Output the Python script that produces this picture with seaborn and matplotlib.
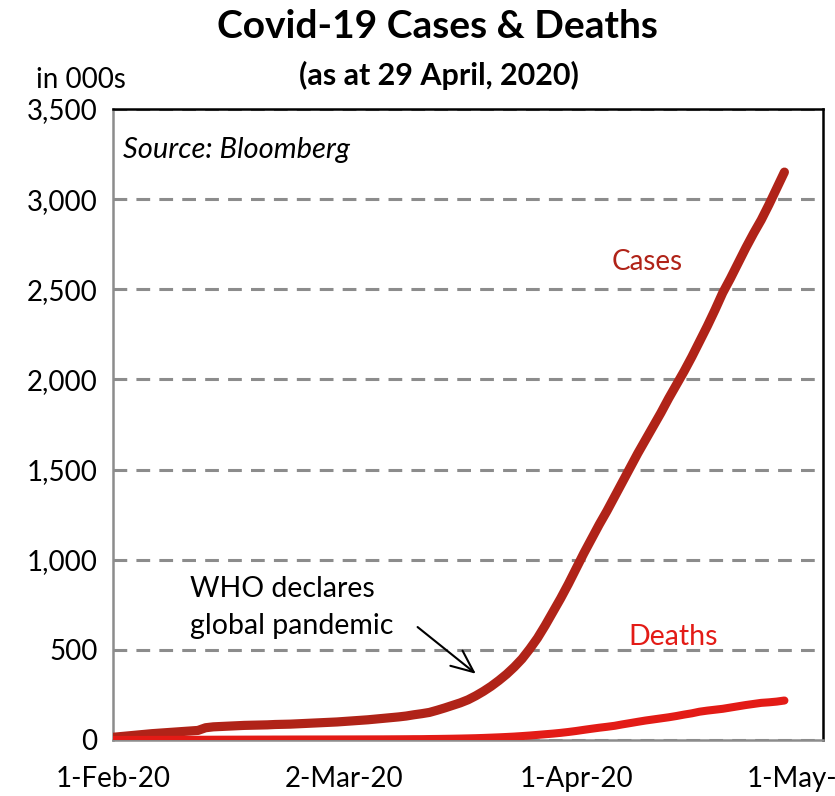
import matplotlib
matplotlib.use("Agg")
import matplotlib.pyplot as plt
import seaborn as sns
import pandas as pd

# daily totals in 000s, 1-Feb-20 .. 28-Apr-20
cases = [15, 19, 23, 27, 31, 35, 38, 41, 44, 47, 50, 53, 68, 73, 75, 77, 79, 81, 82,
         83, 84, 86, 87, 88, 90, 92, 94, 96, 98,
         100, 103, 106, 109, 112, 116, 120, 124, 128, 133, 140, 146, 153, 165, 178, 192,
         206, 223, 245, 270, 298, 330, 365, 405, 450, 505, 565, 635, 710, 785, 865,
         950, 1035, 1115, 1195, 1270, 1350, 1430, 1510, 1590, 1665, 1740, 1815, 1895, 1970,
         2045, 2125, 2210, 2295, 2385, 2480, 2560, 2645, 2730, 2810, 2885, 2970, 3060, 3150]
deaths = [0.26, 0.36, 0.43, 0.49, 0.56, 0.64, 0.72, 0.81, 0.91, 1.01, 1.11, 1.12, 1.37,
          1.52, 1.67, 1.77, 1.87, 2.01, 2.12, 2.25, 2.25, 2.46, 2.47, 2.63, 2.71, 2.77,
          2.81, 2.86, 2.94,
          2.99, 3.09, 3.16, 3.25, 3.35, 3.46, 3.56, 3.80, 3.99, 4.26, 4.62, 4.72, 5.40,
          5.82, 6.47, 7.16, 7.97, 8.95, 10.0, 11.4, 13.1, 14.8, 16.8, 19.0, 21.8, 24.8,
          28.3, 31.9, 35.4, 39.6, 44.5,
          50.0, 56.3, 62.3, 68.1, 73.2, 78.8, 86.6, 93.7, 101, 108, 114, 120, 126, 133,
          141, 148, 157, 163, 168, 173, 180, 187, 194, 200, 206, 209, 213, 219]
dates = pd.date_range("2020-02-01", "2020-04-28")

tick_dates = pd.to_datetime(["2020-02-01", "2020-03-02", "2020-04-01", "2020-05-01"])
tick_labels = ["1-Feb-20", "2-Mar-20", "1-Apr-20", "1-May-20"]
y_ticks = [0, 500, 1000, 1500, 2000, 2500, 3000, 3500]

df = pd.DataFrame({"date": dates, "Cases": cases, "Deaths": deaths})

sns.set_style("white")
plt.rcParams["font.family"] = ["Lato", "DejaVu Sans"]
plt.rcParams["text.color"] = "black"
plt.rcParams["xtick.labelcolor"] = "black"
plt.rcParams["ytick.labelcolor"] = "black"

fig = plt.figure(figsize=(8.35, 7.96), dpi=100)
ax = fig.add_axes([113 / 835, 56 / 796, 710 / 835, 631 / 796])

grey = "#8c8c8c"
sns.lineplot(data=df, x="date", y="Cases", ax=ax, color="#b02318", lw=6.6,
             solid_capstyle="round", zorder=3)
sns.lineplot(data=df, x="date", y="Deaths", ax=ax, color="#e31b16", lw=5.8,
             solid_capstyle="round", zorder=4)

ax.set_xlim(pd.Timestamp("2020-02-01"), pd.Timestamp("2020-05-03"))
ax.set_ylim(0, 3500)
ax.set_xticks(tick_dates)
ax.set_xticklabels(tick_labels)
ax.set_yticks(y_ticks)
ax.set_yticklabels([f"{v:,}" for v in y_ticks])
ax.set_xlabel("")
ax.set_ylabel("")

ax.tick_params(axis="x", direction="in", length=8, width=1.5, color=grey,
               labelcolor="black", labelsize=20, pad=19)
ax.tick_params(axis="y", length=0, labelcolor="black", labelsize=20, pad=11)

ax.grid(axis="y", color=grey, lw=2.2, linestyle=(0, (4.5, 3)))
ax.grid(axis="x", visible=False)
ax.set_axisbelow(True)

for side in ["left", "bottom"]:
    ax.spines[side].set_color(grey)
    ax.spines[side].set_linewidth(1.8)
for side in ["top", "right"]:
    ax.spines[side].set_color("black")
    ax.spines[side].set_linewidth(1.8)

fig.text(0.524, 0.967, "Covid-19 Cases & Deaths", ha="center", va="center",
         fontsize=28, fontweight="bold")
fig.text(0.526, 0.905, "(as at 29 April, 2020)", ha="center", va="center",
         fontsize=22, fontweight="bold")
fig.text(0.043, 0.889, "in 000s", ha="left", va="baseline", fontsize=20)

ax.text(0.014, 0.935, "Source: Bloomberg", transform=ax.transAxes, ha="left",
        va="center", fontsize=21, style="italic")
ax.text(0.752, 0.7575, "Cases", transform=ax.transAxes, ha="center", va="center",
        fontsize=20, color="#b02318")
ax.text(0.789, 0.163, "Deaths", transform=ax.transAxes, ha="center", va="center",
        fontsize=20.5, color="#e31b16")
ax.text(0.1085, (740 - 597) / 631, "WHO declares", transform=ax.transAxes,
        ha="left", va="baseline", fontsize=20.5)
ax.text(0.1085, (740 - 634) / 631, "global pandemic", transform=ax.transAxes,
        ha="left", va="baseline", fontsize=20.5)
ax.annotate("", xy=(0.511, 0.105), xytext=(0.429, 0.179),
            xycoords="axes fraction", textcoords="axes fraction",
            arrowprops=dict(arrowstyle="->,head_length=0.8,head_width=0.35",
                            mutation_scale=20, color="black", lw=1.5,
                            shrinkA=0, shrinkB=0))

fig.savefig("out.png", dpi=100)
